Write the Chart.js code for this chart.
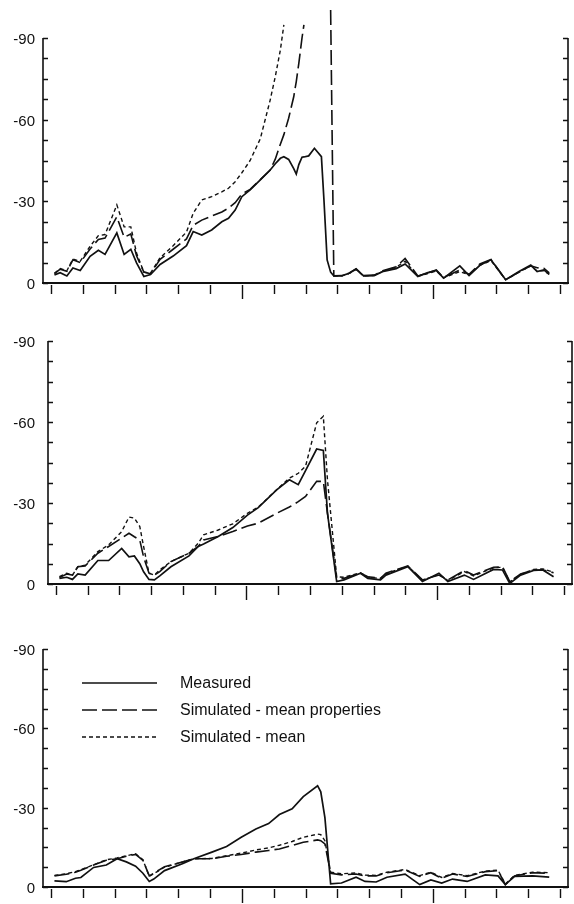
<!DOCTYPE html>
<html>
<head>
<meta charset="utf-8">
<script src="https://cdn.jsdelivr.net/npm/chart.js@4.4.1/dist/chart.umd.min.js"></script>
<style>
  html, body { margin: 0; padding: 0; background: #fff; }
  body { width: 574px; height: 904px; position: relative; overflow: hidden; }
  canvas { position: absolute; left: 0; }
</style>
</head>
<body>
<canvas id="c1" width="574" height="310" style="top:0"></canvas>
<canvas id="c2" width="574" height="310" style="top:310px"></canvas>
<canvas id="c3" width="574" height="284" style="top:620px"></canvas>
<script>
// ---- data ---------------------------------------------------------------
// x positions are in x-axis tick units (ticks at 0..16)
const seriesNames = ['Measured', 'Simulated - mean properties', 'Simulated - mean'];
const yLabelValues = [0, -30, -60, -90];
const yMinorStep = 7.5;
const xTickCount = 17;
const xLongTicks = [6, 12];

const topX = [0.11,0.29,0.50,0.69,0.92,1.23,1.49,1.70,2.07,2.30,2.51,2.69,2.92,3.13,3.43,3.84,4.26,4.47,4.74,5.05,
  5.37,5.58,5.79,6.00,6.26,6.58,6.89,7.05,7.21,7.32,7.47,7.63,7.71,7.79,7.89,7.95,8.10,8.28,8.50,8.58,
  8.68,8.79,8.89,9.16,9.37,9.59,9.82,10.16,10.45,10.85,11.13,11.53,11.82,12.11,12.34,12.85,13.14,13.48,13.83,14.29,
  14.71,15.08,15.28,15.49,15.66];
const topMeasured = [-3.0,-3.8,-2.6,-5.5,-4.6,-9.8,-12.0,-10.5,-18.4,-10.5,-12.4,-7.4,-2.4,-3.1,-6.8,-9.9,-13.7,-18.9,-17.6,-19.5,
  -22.5,-23.8,-26.8,-31.7,-34.2,-37.9,-41.5,-43.8,-45.8,-46.4,-45.4,-42.0,-40.0,-43.5,-46.2,-46.3,-46.7,-49.5,-46.4,-30.5,
  -8.5,-4.0,-2.6,-2.7,-3.6,-5.1,-2.7,-2.7,-4.3,-5.3,-7.0,-2.4,-3.7,-4.6,-1.8,-6.3,-2.7,-6.5,-8.5,-1.2,
  -4.2,-6.6,-4.2,-4.8,-3.2];
const topSimProps = [-3.4,-5.1,-4.3,-8.5,-7.5,-12.5,-16.0,-16.5,-24.3,-16.8,-18.0,-10.0,-4.0,-3.4,-8.7,-12.4,-16.2,-21.2,-23.1,-24.6,
  -26.1,-27.5,-29.5,-32.7,-34.4,-38.0,-41.5,-45.5,-51.0,-54.5,-60.5,-68.4,-74.0,-80.7,-90.0,-94.8,null,null,null,null,
  null,-100.3,-2.6,-2.7,-3.6,-5.2,-2.6,-2.9,-4.6,-6.0,-9.0,-2.6,-3.6,-4.8,-2.0,-4.8,-3.2,-7.0,-8.6,-1.2,
  -4.0,-6.3,-5.6,-5.4,-3.7];
const topSimMean = [-3.6,-5.3,-4.5,-8.8,-8.0,-13.5,-17.4,-17.8,-28.7,-20.6,-20.6,-11.0,-4.0,-3.6,-9.3,-13.7,-18.7,-25.6,-30.5,-31.7,
  -33.5,-34.8,-37.2,-40.5,-45.0,-53.0,-67.2,-75.8,-85.6,-94.8,null,null,null,null,null,null,null,null,null,null,
  null,null,-2.6,-2.7,-3.5,-5.0,-2.6,-2.8,-4.4,-5.8,-8.0,-2.5,-3.4,-4.4,-1.9,-4.2,-3.0,-6.5,-8.2,-1.2,
  -4.0,-6.3,-4.4,-4.5,-3.2];

const midX = [0.11,0.34,0.52,0.69,0.92,1.32,1.66,2.07,2.30,2.47,2.64,2.76,2.93,3.10,3.27,3.62,4.19,4.48,4.65,5.11,
  5.57,6.03,6.37,6.95,7.35,7.63,7.86,8.21,8.42,8.55,8.84,9.07,9.59,9.82,10.22,10.39,11.08,11.54,12.06,12.34,
  12.86,13.15,13.78,14.06,14.29,14.63,15.04,15.33,15.67];
const midMeasured = [-2.1,-2.5,-1.7,-3.7,-3.3,-8.7,-8.7,-13.2,-10.1,-10.4,-7.5,-4.5,-1.7,-1.5,-3.0,-6.4,-10.4,-13.9,-14.8,-17.6,
  -20.9,-25.5,-28.3,-34.9,-38.6,-36.8,-42.0,-50.0,-49.5,-26.2,-0.9,-1.5,-4.0,-2.1,-1.5,-3.3,-6.4,-0.9,-4.0,-0.9,
  -3.3,-1.7,-5.4,-5.2,-0.2,-3.3,-5.0,-5.2,-2.7];
const midSimProps = [-2.4,-3.7,-3.3,-6.4,-6.7,-11.4,-13.9,-17.0,-18.8,-17.5,-16.3,-10.0,-4.0,-3.3,-4.6,-8.3,-11.4,-13.9,-16.3,-17.6,
  -19.4,-21.5,-22.5,-26.2,-28.5,-30.5,-32.4,-38.0,-38.0,-26.2,-2.1,-2.1,-4.0,-2.7,-2.1,-4.0,-6.7,-1.5,-3.3,-1.5,
  -5.0,-3.3,-6.2,-6.4,-0.9,-3.7,-5.2,-5.2,-4.2];
const midSimMean = [-2.7,-4.0,-3.3,-6.4,-7.0,-12.0,-14.5,-19.4,-24.8,-24.4,-21.3,-13.9,-4.0,-3.3,-5.2,-8.3,-11.4,-15.1,-18.2,-20.0,
  -22.3,-26.2,-28.5,-34.9,-39.2,-41.0,-43.6,-59.7,-62.1,-38.6,-2.7,-2.5,-4.2,-2.6,-2.0,-3.8,-6.6,-1.4,-3.5,-1.3,
  -4.6,-3.0,-6.0,-6.2,-0.8,-3.6,-5.4,-5.6,-4.4];

const botX = [0.11,0.48,0.77,0.94,1.34,1.74,2.08,2.37,2.66,2.89,3.09,3.23,3.57,4.15,4.49,5.06,5.52,5.98,6.44,6.84,
  7.18,7.58,7.93,8.38,8.48,8.61,8.79,9.13,9.59,9.87,10.22,10.56,11.13,11.59,11.94,12.28,12.62,13.08,13.65,14.05,
  14.28,14.57,15.14,15.66];
const botMeasured = [-2.3,-2.0,-3.3,-3.6,-7.4,-8.3,-10.7,-9.5,-7.9,-5.2,-2.1,-3.0,-6.2,-8.9,-10.7,-13.2,-15.3,-18.8,-21.9,-24.0,
  -27.4,-29.6,-34.2,-38.3,-36.0,-26.2,-1.2,-1.5,-3.7,-2.1,-1.9,-3.7,-4.9,-0.9,-2.7,-1.5,-3.0,-2.1,-4.6,-4.2,
  -0.9,-4.0,-4.2,-3.7];
const botSimProps = [-4.2,-4.8,-5.6,-6.3,-8.3,-10.1,-10.7,-11.6,-12.3,-10.1,-4.2,-5.2,-7.7,-9.5,-10.7,-10.7,-11.6,-12.3,-13.2,-13.8,
  -14.4,-15.7,-16.9,-17.8,-17.5,-16.3,-5.2,-4.6,-4.9,-4.2,-4.2,-5.4,-6.4,-4.0,-5.4,-3.3,-4.9,-4.0,-5.8,-6.2,
  -0.9,-4.2,-5.4,-5.2];
const botSimMean = [-4.4,-5.0,-5.8,-6.5,-8.4,-10.3,-11.0,-11.8,-12.6,-10.3,-4.0,-5.0,-7.5,-9.5,-10.7,-10.8,-11.8,-12.8,-14.0,-14.8,
  -15.8,-17.2,-18.8,-20.0,-19.8,-17.5,-5.6,-5.0,-5.3,-4.5,-4.4,-5.6,-6.6,-4.3,-5.6,-3.6,-5.1,-4.3,-6.0,-6.4,
  -1.1,-4.4,-5.6,-5.4];

// ---- styling ------------------------------------------------------------
const INK = '#111111';
const FONT = '"Liberation Sans", Arial, sans-serif';
const lineStyles = [
  { borderDash: [], borderWidth: 1.7 },
  { borderDash: [15, 5], borderWidth: 1.6 },
  { borderDash: [4, 3], borderWidth: 1.4 }
];

function makeDatasets(xs, series, clip) {
  return series.map((ys, i) => ({
    label: seriesNames[i],
    data: xs.map((x, k) => ({ x, y: ys[k] })),
    borderColor: INK,
    borderWidth: lineStyles[i].borderWidth,
    borderDash: lineStyles[i].borderDash,
    pointRadius: 0,
    tension: 0,
    spanGaps: false,
    clip: clip
  }));
}

// axis frame: left/right lines with inward ticks, bottom line with outward ticks
const framePlugin = {
  id: 'frame',
  afterDraw(chart) {
    const { ctx, chartArea: a, scales: { x, y } } = chart;
    ctx.save();
    ctx.strokeStyle = INK;
    ctx.lineCap = 'butt';
    ctx.lineWidth = 1.6;
    ctx.beginPath();
    ctx.moveTo(a.left, a.top); ctx.lineTo(a.left, a.bottom);
    ctx.moveTo(a.right, a.top); ctx.lineTo(a.right, a.bottom);
    ctx.stroke();
    ctx.lineWidth = 2;
    ctx.beginPath();
    ctx.moveTo(a.left - 1, a.bottom); ctx.lineTo(a.right + 1, a.bottom);
    ctx.stroke();
    ctx.lineWidth = 1.3;
    ctx.beginPath();
    for (let v = 0; v >= -90; v -= yMinorStep) {
      const py = Math.round(y.getPixelForValue(v)) + 0.5;
      ctx.moveTo(a.left, py); ctx.lineTo(a.left + 5, py);
      ctx.moveTo(a.right, py); ctx.lineTo(a.right - 5, py);
    }
    ctx.stroke();
    ctx.lineWidth = 1.4;
    ctx.beginPath();
    for (let j = 0; j < xTickCount; j++) {
      const px = Math.round(x.getPixelForValue(j)) + 0.5;
      const len = xLongTicks.includes(j) ? 14 : 9;
      ctx.moveTo(px, a.bottom + 2); ctx.lineTo(px, a.bottom + 2 + len);
    }
    ctx.stroke();
    ctx.restore();
  }
};

// line key drawn inside the lowest panel
const keyPlugin = {
  id: 'key',
  afterDatasetsDraw(chart, args, opts) {
    if (!opts.show) return;
    const { ctx } = chart;
    ctx.save();
    chart.data.datasets.forEach((ds, i) => {
      const yy = opts.y0 + i * opts.gap;
      ctx.strokeStyle = INK;
      ctx.lineWidth = ds.borderWidth;
      ctx.setLineDash(ds.borderDash);
      ctx.beginPath();
      ctx.moveTo(opts.x0, yy); ctx.lineTo(opts.x1, yy);
      ctx.stroke();
      ctx.setLineDash([]);
      ctx.fillStyle = INK;
      ctx.font = '16px ' + FONT;
      ctx.textBaseline = 'middle';
      ctx.textAlign = 'left';
      ctx.fillText(ds.label, opts.tx, yy + 1);
    });
    ctx.restore();
  }
};

function makePanel(id, xs, series, box, clip, key) {
  const cv = document.getElementById(id);
  return new Chart(cv, {
    type: 'line',
    data: { datasets: makeDatasets(xs, series, clip) },
    options: {
      responsive: false,
      animation: false,
      events: [],
      layout: { padding: { top: box.top, bottom: box.bottom, left: 0, right: box.right } },
      plugins: {
        legend: { display: false },
        tooltip: { enabled: false },
        key: key || { show: false }
      },
      scales: {
        x: {
          type: 'linear', display: false,
          min: -0.25, max: xTickCount - 1 + 0.25
        },
        y: {
          type: 'linear', reverse: true, min: -90, max: 0,
          afterFit(s) { s.width = box.left; },
          afterBuildTicks(s) { s.ticks = yLabelValues.map(v => ({ value: v })); },
          grid: { display: false, drawTicks: false },
          border: { display: false },
          ticks: {
            padding: box.labelPad, labelOffset: 2, color: INK,
            font: { family: FONT, size: 15 },
            callback: v => String(v)
          }
        }
      }
    },
    plugins: [framePlugin, keyPlugin]
  });
}

makePanel('c1', topX, [topMeasured, topSimProps, topSimMean],
  { top: 38, bottom: 27, left: 43, right: 6, labelPad: 8 }, false);
makePanel('c2', midX, [midMeasured, midSimProps, midSimMean],
  { top: 31, bottom: 36, left: 48, right: 2, labelPad: 13 }, 0);
makePanel('c3', botX, [botMeasured, botSimProps, botSimMean],
  { top: 29, bottom: 11, left: 43, right: 6, labelPad: 8 }, 0,
  { show: true, x0: 82, x1: 157, tx: 180, y0: 63, gap: 27 });
</script>
</body>
</html>
